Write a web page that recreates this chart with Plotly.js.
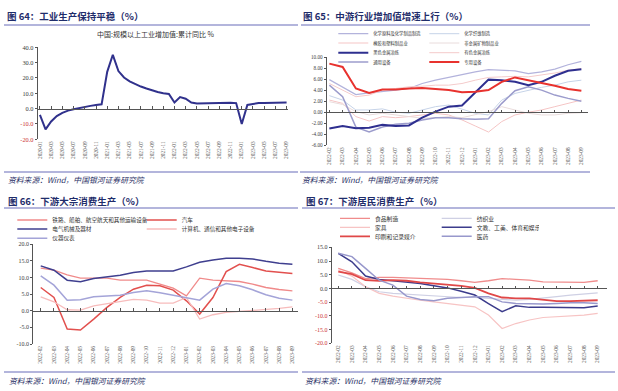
<!DOCTYPE html>
<html><head><meta charset="utf-8">
<script src="https://cdn.plot.ly/plotly-3.0.1.min.js"></script>
<style>html,body{margin:0;padding:0;background:#fff;}#chart{width:618px;height:391px;}</style>
</head><body><div id="chart"></div>
<script>
// ---------- Chart 64 ----------
const months64 = ['2020-01','2020-02','2020-03','2020-04','2020-05','2020-06','2020-07','2020-08','2020-09','2020-10','2020-11','2020-12',
 '2021-01','2021-02','2021-03','2021-04','2021-05','2021-06','2021-07','2021-08','2021-09','2021-10','2021-11','2021-12',
 '2022-01','2022-02','2022-03','2022-04','2022-05','2022-06','2022-07','2022-08','2022-09','2022-10','2022-11','2022-12',
 '2023-01','2023-02','2023-03','2023-04','2023-05','2023-06','2023-07','2023-08','2023-09'];
const ip64 = [-4.1,-13.5,-8.4,-4.9,-2.8,-1.3,-0.4,0.4,1.2,1.8,2.3,2.8,
 24.0,35.1,24.5,20.3,17.8,15.9,14.4,13.1,11.8,10.9,10.1,9.6,
 4.0,7.5,6.5,4.0,3.3,3.4,3.5,3.6,3.9,4.0,3.8,3.6,
 -10.0,2.4,3.0,3.6,3.6,3.8,3.8,3.9,4.0];
const name64 = '中国:规模以上工业增加值:累计同比 %';
const yTickVals64 = [-20,-10,0,10,20,30,40];
const yTickText64 = ['-20.0','-10.0','0.0','10.0','20.0','30.0','40.0'];

// ---------- shared months for 65/66/67 ----------
const monthsMid = ['2022-02','2022-03','2022-04','2022-05','2022-06','2022-07','2022-08','2022-09','2022-10','2022-11','2022-12',
 '2023-01','2023-02','2023-03','2023-04','2023-05','2023-06','2023-07','2023-08','2023-09'];

// ---------- Chart 65 ----------
const names65 = ['化学原料及化学制品制造','化学纤维制造','橡胶和塑料制品业','非金属矿物制品业','黑色金属冶炼','有色金属冶炼','通用设备','专用设备'];
const chem65     = [5.9,4.6,3.2,3.5,3.7,4.0,4.3,5.2,5.8,6.3,6.9,7.3,7.7,7.6,7.5,7.0,7.3,7.8,8.6,9.2];
const fiber65    = [3.0,2.2,0.4,0.4,0.6,0.0,-0.2,0.4,1.0,1.3,0.6,-0.2,-0.5,2.2,3.4,4.0,4.5,4.9,5.5,5.8];
const rubber65   = [2.2,1.6,-0.8,-1.6,-0.8,-1.0,-0.8,-0.5,-0.2,-0.5,-1.4,-2.5,-3.6,-1.7,-0.5,0.0,0.4,1.0,1.6,2.2];
const nonmetal65 = [1.9,1.4,0.1,-0.5,-0.2,-0.5,-0.8,-1.1,-1.0,-0.8,-1.0,-0.5,0.1,1.0,0.4,-0.2,-0.5,-0.5,-0.2,-0.1];
const ferrous65  = [-2.95,-2.5,-2.9,-2.8,-2.3,-2.5,-2.4,-1.0,0.1,1.0,1.2,3.5,5.9,5.8,5.5,4.9,5.5,6.6,7.5,7.8];
const nonfer65   = [5.2,4.0,2.8,3.1,4.0,4.3,4.6,4.7,4.9,4.9,5.2,5.8,6.3,6.4,6.5,6.4,6.7,7.1,7.6,7.9];
const general65  = [4.9,2.8,-2.7,-3.6,-2.7,-2.2,-2.0,-1.4,-1.0,-1.0,-1.2,-1.3,-1.2,1.6,3.9,4.6,4.0,3.1,2.5,2.0];
const special65  = [8.8,8.2,4.3,3.5,4.1,4.1,4.3,4.4,4.2,4.0,3.6,3.7,4.0,5.5,6.3,5.8,5.4,4.8,4.2,3.9];
const yTickVals65 = [-6,-4,-2,0,2,4,6,8,10];
const yTickText65 = ['-6.00','-4.00','-2.00','0.00','2.00','4.00','6.00','8.00','10.00'];

// ---------- Chart 66 ----------
const names66 = ['铁路、船舶、航空航天和其他运输设备','汽车','电气机械及器材','计算机、通信和其他电子设备','仪器仪表'];
const rail66     = [12.8,12.2,10.8,9.8,9.8,9.8,9.2,9.2,9.2,8.0,6.8,4.5,9.8,9.2,9.0,8.8,8.0,7.0,6.4,6.0];
const auto66     = [7.0,4.0,-5.5,-5.8,-2.5,1.0,4.0,6.5,7.7,7.5,6.2,3.0,-1.0,4.0,11.8,14.0,13.0,12.0,11.6,11.2];
const elec66     = [13.5,12.2,9.2,8.7,9.7,10.2,10.7,11.5,12.0,12.0,12.0,13.2,14.6,15.3,15.8,15.8,15.6,14.9,14.3,14.0];
const computer66 = [4.2,2.7,0.3,0.2,1.5,2.2,2.7,3.4,3.2,2.3,2.3,4.0,-2.5,-1.2,-0.5,-0.2,0.0,0.2,0.7,1.2];
const instr66    = [10.5,7.7,3.2,3.3,4.2,4.5,4.7,5.5,6.0,5.4,4.7,3.8,3.2,6.5,8.2,7.5,6.3,4.8,3.8,3.2];
const yTickVals66 = [-10,-5,0,5,10,15,20];
const yTickText66 = ['-10.0','-5.0','0.0','5.0','10.0','15.0','20.0'];

// ---------- Chart 67 ----------
const names67 = ['食品制造','纺织业','家具','文教、工美、体育和娱乐用品','印刷和记录媒介','医药'];
const food67      = [7.3,5.7,3.6,4.0,4.0,3.8,3.6,3.5,3.3,2.8,2.2,2.8,3.6,3.3,3.0,2.4,2.4,2.2,2.2,2.8];
const textile67   = [4.9,3.3,0.6,-1.2,-1.8,-2.1,-2.4,-2.8,-3.0,-3.3,-3.3,-3.6,-4.0,-4.3,-4.0,-3.6,-3.0,-2.4,-2.1,-1.6];
const furniture67 = [6.7,4.5,0.6,-1.8,-2.8,-3.6,-4.3,-4.9,-5.5,-6.1,-6.7,-9.7,-14.6,-12.8,-11.5,-10.6,-10.3,-10.1,-9.7,-9.1];
const culture67   = [12.8,9.7,4.5,3.3,2.8,2.4,1.8,1.0,0.2,-1.0,-2.4,-5.5,-8.5,-6.3,-6.9,-6.9,-6.9,-7.0,-7.0,-6.4];
const printing67  = [6.1,5.2,3.0,2.8,3.0,2.8,2.2,1.8,1.5,0.9,0.2,-1.8,-3.3,-3.6,-3.6,-4.0,-4.6,-4.6,-4.5,-4.3];
const pharma67    = [12.8,11.6,7.3,3.0,1.2,-2.8,-4.0,-4.5,-3.6,-3.3,-3.0,-3.0,-4.9,-5.5,-5.7,-5.7,-5.5,-5.2,-5.2,-5.5];
const yTickVals67 = [-20,-15,-10,-5,0,5,10,15];
const yTickText67 = ['-20.0','-15.0','-10.0','-5.0','0.0','5.0','10.0','15.0'];

// ---------- texts ----------
const titles = ['图 64：工业生产保持平稳（%）','图 65：中游行业增加值增速上行（%）','图 66：下游大宗消费生产（%）','图 67：下游居民消费生产（%）'];
const sourceText = '资料来源：Wind，中国银河证券研究院';

// ---------- layout helpers ----------
const W = 618, H = 391;
const px = v => v / W;
const py = v => 1 - v / H;
const CJK = '"Noto Sans CJK SC", sans-serif';
const NUM = '"Liberation Serif", serif';
const AX = '#555';
const redTick = (t) => t.startsWith('-') ? '<span style="color:#cc3333">' + t + '</span>' : t;

function line(x, y, name, color, width, xa, ya, lg) {
  return {type:'scatter', mode:'lines', x:x, y:y, name:name, line:{color:color, width:width},
          xaxis:xa, yaxis:ya, legend:lg, showlegend: !!lg, hoverinfo:'skip'};
}
function dummy(x, xa, ya) {
  return {type:'scatter', mode:'lines', x:x, y:x.map(()=>null), xaxis:xa, yaxis:ya, showlegend:false, hoverinfo:'skip'};
}

const traces = [
  line(months64, ip64, name64, '#30318c', 2, 'x', 'y', null),
  dummy(months64, 'x5', 'y'),

  line(monthsMid, chem65, names65[0], '#b3b3dc', 1.2, 'x2', 'y2', 'legend2'),
  line(monthsMid, fiber65, names65[1], '#c6d3e8', 1.0, 'x2', 'y2', 'legend2'),
  line(monthsMid, rubber65, names65[2], '#f5c5c5', 1.0, 'x2', 'y2', 'legend3'),
  line(monthsMid, nonmetal65, names65[3], '#e9dcdc', 1.0, 'x2', 'y2', 'legend3'),
  line(monthsMid, nonfer65, names65[5], '#f4cbcb', 1.0, 'x2', 'y2', 'legend4'),
  line(monthsMid, general65, names65[6], '#9c9ccc', 1.5, 'x2', 'y2', 'legend5'),
  line(monthsMid, ferrous65, names65[4], '#2e2f8f', 2, 'x2', 'y2', 'legend4'),
  line(monthsMid, special65, names65[7], '#e8322e', 2, 'x2', 'y2', 'legend5'),
  dummy(monthsMid, 'x6', 'y2'),

  line(monthsMid, rail66, names66[0], '#f08a8a', 1.3, 'x3', 'y3', 'legend6'),
  line(monthsMid, auto66, names66[1], '#e2504e', 1.5, 'x3', 'y3', 'legend6'),
  line(monthsMid, elec66, names66[2], '#3f3f8f', 1.5, 'x3', 'y3', 'legend7'),
  line(monthsMid, computer66, names66[3], '#f7bcbc', 1.3, 'x3', 'y3', 'legend7'),
  line(monthsMid, instr66, names66[4], '#a4a4d8', 1.5, 'x3', 'y3', 'legend8'),
  dummy(monthsMid, 'x7', 'y3'),

  line(monthsMid, food67, names67[0], '#f08c8c', 1.3, 'x4', 'y4', 'legend9'),
  line(monthsMid, textile67, names67[1], '#cfd0e4', 1.2, 'x4', 'y4', 'legend9'),
  line(monthsMid, furniture67, names67[2], '#f7c4c4', 1.2, 'x4', 'y4', 'legend10'),
  line(monthsMid, culture67, names67[3], '#3c3c8c', 1.5, 'x4', 'y4', 'legend10'),
  line(monthsMid, printing67, names67[4], '#e04848', 1.8, 'x4', 'y4', 'legend11'),
  line(monthsMid, pharma67, names67[5], '#9898cc', 1.5, 'x4', 'y4', 'legend11'),
  dummy(monthsMid, 'x8', 'y4'),
];
traces[6].legendrank = 2; traces[8].legendrank = 1;

// subplot geometry (pixels)
const geo = {
  c64: {x0:37.7, x1:288, yTop:47.3, yBot:139.3, xr:[-0.4,44.25], yr:[-20,40]},
  c65: {x0:326.7, x1:588, yTop:57, yBot:145.3, xr:[-0.2,19.5], yr:[-6,10]},
  c66: {x0:33.3, x1:297.7, yTop:244.3, yBot:344, xr:[-0.56,19.4], yr:[-10,20]},
  c67: {x0:331.7, x1:606.7, yTop:247.3, yBot:343.3, xr:[-0.48,19.66], yr:[-20,15]},
};
function xdom(g){ return [px(g.x0), px(g.x1)]; }
function ydom(g){ return [py(g.yBot), py(g.yTop)]; }
function zeroPos(g){ const d = ydom(g); return d[0] + (0 - g.yr[0]) / (g.yr[1] - g.yr[0]) * (d[1] - d[0]); }

function xBottom(g, anchor, dtick, cats) {
  return {domain:xdom(g), anchor:anchor, type:'category', categoryorder:'array', categoryarray:cats, range:g.xr,
          showline:false, showgrid:false, zeroline:false, ticks:'', tickangle:-90, dtick:dtick, tick0:0,
          tickfont:{family:NUM, size:5.3, color:'#555'}, automargin:false};
}
function xZero(g, over, dtick, cats) {
  return {overlaying:over, anchor:'free', position:zeroPos(g), type:'category', categoryorder:'array', categoryarray:cats, range:g.xr,
          showline:true, linecolor:AX, linewidth:1, showgrid:false, zeroline:false, ticks:'inside', ticklen:2.5, tickcolor:AX,
          dtick:dtick, tick0:0, showticklabels:false, automargin:false};
}
function yAx(g, anchor, vals, text, size) {
  return {domain:ydom(g), anchor:anchor, range:g.yr, tickmode:'array', tickvals:vals, ticktext:text,
          showline:true, linecolor:AX, linewidth:1, ticks:'outside', ticklen:2, tickcolor:AX,
          showgrid:false, zeroline:false, tickfont:{family:NUM, size:size, color:'#3a3a3a'}, automargin:false};
}

function lg(xText, yRow, ew, size) {
  return {x:px(xText - 40), y:py(yRow), xanchor:'left', yanchor:'middle', orientation:'h',
          entrywidth:ew, entrywidthmode:'pixels', bgcolor:'rgba(0,0,0,0)', borderwidth:0,
          font:{family:CJK, size:size, color:'#333'}, itemclick:false, itemdoubleclick:false};
}

const layout = {
  width:W, height:H, margin:{l:0,r:0,t:0,b:0}, paper_bgcolor:'#fff', plot_bgcolor:'rgba(0,0,0,0)',
  showlegend:true,
  xaxis: xBottom(geo.c64, 'y', 2, months64),
  yaxis: yAx(geo.c64, 'x', yTickVals64, yTickText64.map(redTick), 6.3),
  xaxis5: xZero(geo.c64, 'x', 2, months64),
  xaxis2: xBottom(geo.c65, 'y2', 1, monthsMid),
  yaxis2: yAx(geo.c65, 'x2', yTickVals65, yTickText65, 5.2),
  xaxis6: xZero(geo.c65, 'x2', 1, monthsMid),
  xaxis3: xBottom(geo.c66, 'y3', 1, monthsMid),
  yaxis3: yAx(geo.c66, 'x3', yTickVals66, yTickText66, 6),
  xaxis7: xZero(geo.c66, 'x3', 1, monthsMid),
  xaxis4: xBottom(geo.c67, 'y4', 1, monthsMid),
  yaxis4: yAx(geo.c67, 'x4', yTickVals67, yTickText67.map(redTick), 6),
  xaxis8: xZero(geo.c67, 'x4', 1, monthsMid),

  legend: {visible:false},
  legend2: lg(373.3, 33.7, 46, 4.3),
  legend3: lg(373.3, 43, 46, 4.3),
  legend4: lg(373.3, 52.7, 46, 4.3),
  legend5: lg(373.3, 62, 46, 4.3),
  legend6: lg(52.3, 220, 84.4, 5.6),
  legend7: lg(52.3, 229, 84.4, 5.6),
  legend8: lg(52.3, 238.3, 84.4, 5.6),
  legend9: lg(375, 218.3, 56.7, 5.8),
  legend10: lg(375, 227.3, 56.7, 5.8),
  legend11: lg(375, 236.3, 56.7, 5.8),

  annotations: [
    {text:'<b>'+titles[0]+'</b>', x:px(5), y:py(16), xanchor:'left', yanchor:'middle'},
    {text:'<b>'+titles[1]+'</b>', x:px(301), y:py(16), xanchor:'left', yanchor:'middle'},
    {text:'<b>'+titles[2]+'</b>', x:px(6), y:py(201), xanchor:'left', yanchor:'middle'},
    {text:'<b>'+titles[3]+'</b>', x:px(304), y:py(201), xanchor:'left', yanchor:'middle'},
  ].map(a => Object.assign(a, {xref:'paper', yref:'paper', showarrow:false, font:{family:CJK, size:9.5, color:'#1f2d6b'}}))
  .concat([
    {text:'<i>'+sourceText+'</i>', x:px(6), y:py(179)},
    {text:'<i>'+sourceText+'</i>', x:px(300), y:py(179)},
    {text:'<i>'+sourceText+'</i>', x:px(7), y:py(380)},
    {text:'<i>'+sourceText+'</i>', x:px(303), y:py(380)},
  ].map(a => Object.assign(a, {xref:'paper', yref:'paper', xanchor:'left', yanchor:'middle', showarrow:false, font:{family:CJK, size:7.8, color:'#2a2f66'}})))
  .concat([{text:name64, x:px(155), y:py(34), xref:'paper', yref:'paper', xanchor:'center', yanchor:'middle', showarrow:false,
            font:{family:CJK, size:7, color:'#333'}}]),

  shapes: [
    [4,298,25],[301,590,25],[4,298,172],[300,590,172],
    [4,298,208],[302,615,208],[4,298,372],[302,615,372]
  ].map(s => ({type:'line', xref:'paper', yref:'paper', x0:px(s[0]), x1:px(s[1]), y0:py(s[2]), y1:py(s[2]),
               line:{color:'#9a9cd0', width:1.3}}))
};

Plotly.newPlot('chart', traces, layout, {staticPlot:true, displayModeBar:false});
</script>
</body></html>
